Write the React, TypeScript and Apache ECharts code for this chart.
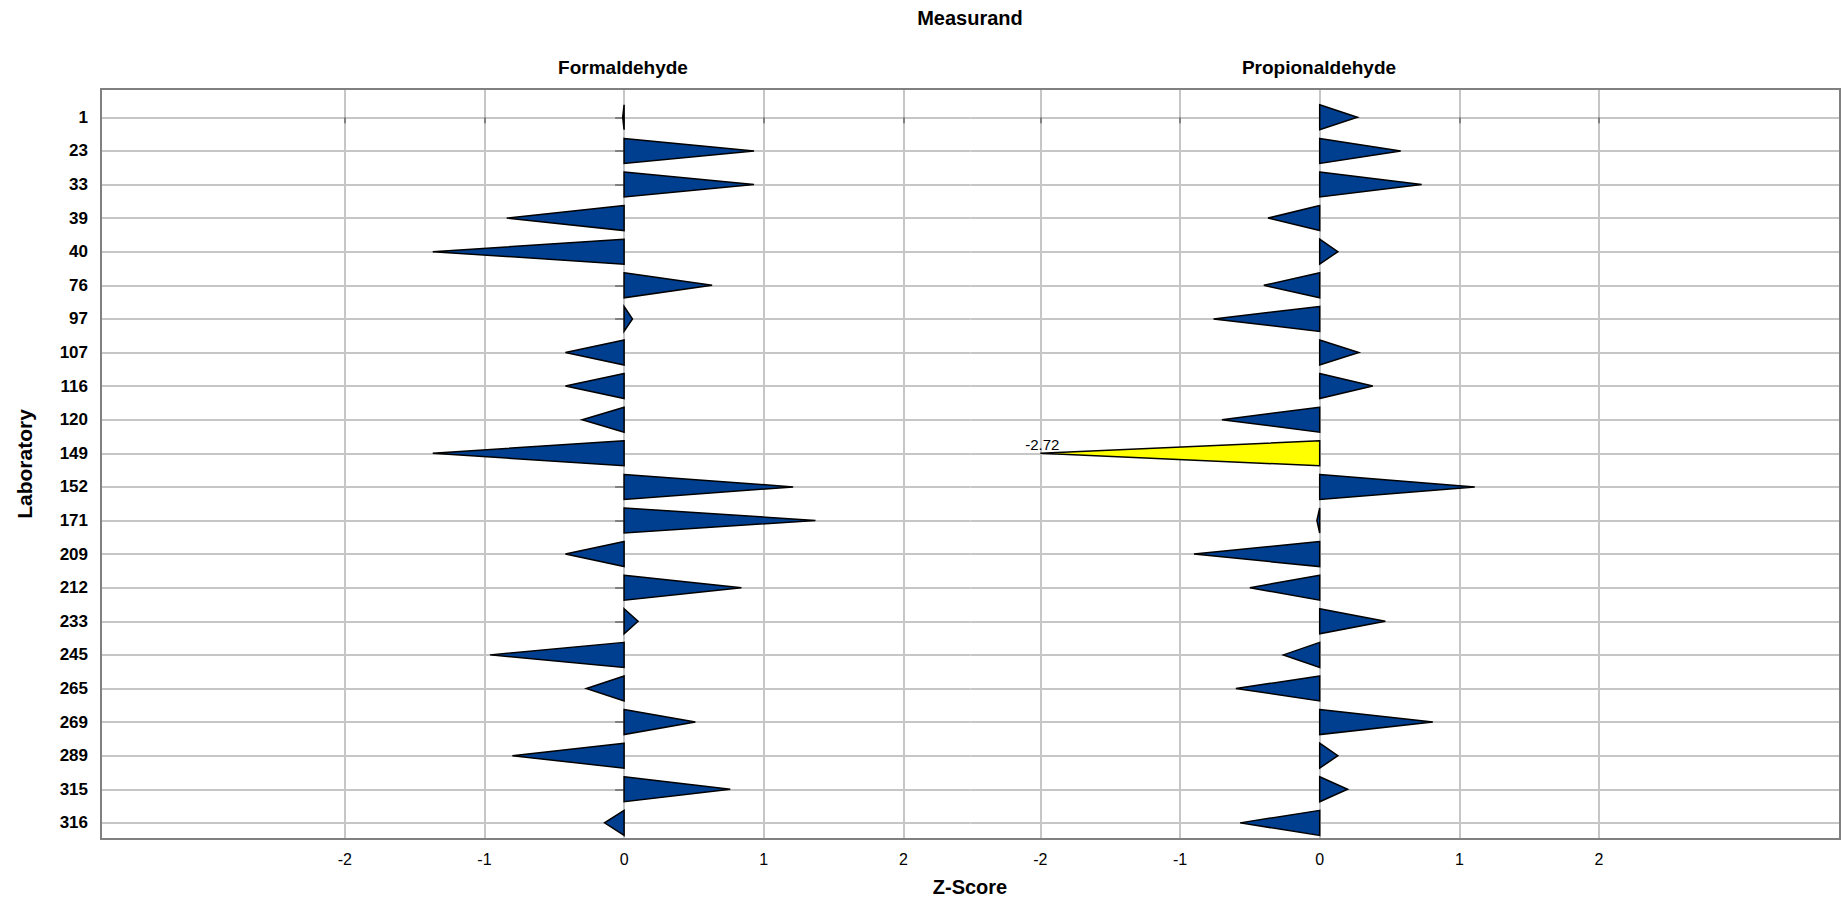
import React, { useEffect, useRef } from "react";
import * as echarts from "echarts";

const laboratories = ["1", "23", "33", "39", "40", "76", "97", "107", "116", "120", "149", "152", "171", "209", "212", "233", "245", "265", "269", "289", "315", "316"];
const formaldehyde = [-0.01, 0.93, 0.93, -0.84, -1.37, 0.63, 0.06, -0.42, -0.42, -0.30, -1.37, 1.21, 1.37, -0.42, 0.84, 0.10, -0.96, -0.27, 0.51, -0.80, 0.76, -0.14];
const propionaldehyde = [0.27, 0.58, 0.73, -0.37, 0.13, -0.40, -0.76, 0.28, 0.38, -0.70, -2.72, 1.11, -0.02, -0.90, -0.50, 0.47, -0.26, -0.60, 0.81, 0.13, 0.20, -0.57];
const measurands = ["Formaldehyde", "Propionaldehyde"];
const xTicks = [-2, -1, 0, 1, 2];

const FONT = "'Liberation Sans', Arial, sans-serif";
const BLUE = "#003f8f";
const YELLOW = "#ffff00";
const GRID_COLOR = "#c6c6c6";
const BORDER = "#808080";

const TOP = 89;
const HEIGHT = 750;
const LEFT = 101;
const PANEL_W = 869.5;

export default function App() {
  const ref = useRef<HTMLDivElement>(null);

  useEffect(() => {
    if (!ref.current) return;
    const chart = echarts.init(ref.current, null, { renderer: "svg" });
    const catIdx = laboratories.map((_, i) => i);

    const renderItem = (params: any, api: any) => {
      const v = api.value(0);
      const i = api.value(1);
      const vc = Math.max(-2, Math.min(2, v));
      const h = 0.372;
      const p0 = api.coord([0, i - h]);
      const p1 = api.coord([0, i + h]);
      const pa = api.coord([vc, i]);
      const out = Math.abs(v) > 2;
      const children: any[] = [
        {
          type: "polygon",
          shape: { points: [p0, pa, p1] },
          style: { fill: out ? YELLOW : BLUE, stroke: "#000", lineWidth: 1.5, lineJoin: "miter" },
        },
      ];
      if (out) {
        children.push({
          type: "text",
          x: pa[0] + 2,
          y: pa[1] - 1.5,
          style: {
            text: v.toFixed(2),
            align: "center",
            verticalAlign: "bottom",
            fontSize: 15,
            fontFamily: FONT,
            fill: "#000",
          },
        });
      }
      return { type: "group", children };
    };

    const xAxisBase = (min: number, max: number, gridIndex: number) => ({
      type: "value",
      gridIndex,
      min,
      max,
      position: "bottom",
      axisLine: { show: false },
      axisTick: { show: true, customValues: xTicks, length: 6, lineStyle: { color: BORDER, width: 2 } },
      axisLabel: { show: true, customValues: xTicks, margin: 12, fontSize: 16, color: "#000", fontFamily: FONT },
      splitLine: { show: true, lineStyle: { color: GRID_COLOR, width: 2 } },
    });

    const yAxisBase = (gridIndex: number, showLabels: boolean) => ({
      type: "value",
      gridIndex,
      inverse: true,
      min: -0.842,
      max: 21.48,
      axisLine: { show: false },
      axisTick: { show: showLabels, customValues: catIdx, length: 9, lineStyle: { color: BORDER, width: 2 } },
      axisLabel: {
        show: showLabels,
        customValues: catIdx,
        margin: 13,
        fontSize: 17,
        fontWeight: "bold",
        color: "#000",
        fontFamily: FONT,
        formatter: (val: number) => laboratories[Math.round(val)] ?? "",
      },
      splitLine: { show: true, lineStyle: { color: GRID_COLOR, width: 2 } },
    });

    chart.setOption({
      animation: false,
      backgroundColor: "#fff",
      grid: [
        { left: LEFT, top: TOP, width: PANEL_W, height: HEIGHT },
        { left: LEFT + PANEL_W, top: TOP, width: PANEL_W, height: HEIGHT },
      ],
      xAxis: [xAxisBase(-3.745, 2.48, 0), xAxisBase(-2.5, 3.725, 1)],
      yAxis: [yAxisBase(0, true), yAxisBase(1, false)],
      series: [
        {
          type: "custom",
          name: measurands[0],
          xAxisIndex: 0,
          yAxisIndex: 0,
          renderItem,
          encode: { x: 0, y: 1 },
          data: formaldehyde.map((v, i) => [v, i]),
          z: 5,
        },
        {
          type: "custom",
          name: measurands[1],
          xAxisIndex: 1,
          yAxisIndex: 1,
          renderItem,
          encode: { x: 0, y: 1 },
          data: propionaldehyde.map((v, i) => [v, i]),
          z: 5,
        },
      ],
      graphic: [
        {
          type: "rect",
          silent: true,
          z: 100,
          shape: { x: LEFT, y: TOP, width: PANEL_W * 2, height: HEIGHT },
          style: { fill: "none", stroke: BORDER, lineWidth: 2 },
        },
        {
          type: "text",
          x: 970,
          y: 17.5,
          style: { text: "Measurand", align: "center", verticalAlign: "middle", fontSize: 20, fontWeight: "bold", fontFamily: FONT, fill: "#000" },
        },
        {
          type: "text",
          x: 623,
          y: 67.7,
          style: { text: measurands[0], align: "center", verticalAlign: "middle", fontSize: 19, fontWeight: "bold", fontFamily: FONT, fill: "#000" },
        },
        {
          type: "text",
          x: 1319,
          y: 67.7,
          style: { text: measurands[1], align: "center", verticalAlign: "middle", fontSize: 19, fontWeight: "bold", fontFamily: FONT, fill: "#000" },
        },
        {
          type: "text",
          x: 24,
          y: 464,
          rotation: Math.PI / 2,
          style: { text: "Laboratory", align: "center", verticalAlign: "middle", fontSize: 21, fontWeight: "bold", fontFamily: FONT, fill: "#000" },
        },
        {
          type: "text",
          x: 970,
          y: 887,
          style: { text: "Z-Score", align: "center", verticalAlign: "middle", fontSize: 20, fontWeight: "bold", fontFamily: FONT, fill: "#000" },
        },
      ],
    });

    return () => chart.dispose();
  }, []);

  return <div ref={ref} style={{ position: "absolute", left: 0, top: 0, width: 1843, height: 899 }} />;
}
